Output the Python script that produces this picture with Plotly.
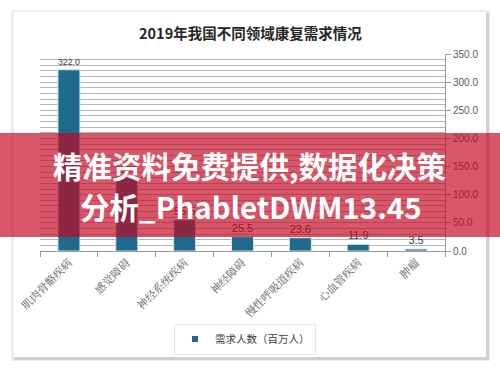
import plotly.graph_objects as go

title = "2019年我国不同领域康复需求情况"
categories = ["肌肉骨骼疾病", "感觉障碍", "神经系统疾病", "神经障碍", "慢性呼吸道疾病", "心血管疾病", "肿瘤"]
values = [322.0, 132.0, 55.5, 25.5, 23.6, 11.9, 3.5]
series_name = "需求人数（百万人）"
y_ticks = [0, 50, 100, 150, 200, 250, 300, 350]
banner_line1 = "精准资料免费提供,数据化决策"
banner_line2 = "分析_PhabletDWM13.45"

W, H = 500, 370
L, R, T, B = 40, 445, 54, 251  # plot area in pixels
BAR_COLOR = "#1f6a8c"


def px_x(x):
    return (x - L) / (R - L)


def px_y(y):
    return (B - y) / (B - T)


fig = go.Figure()
fig.add_trace(go.Bar(
    x=categories, y=values, name=series_name, showlegend=False,
    marker=dict(color=BAR_COLOR, line=dict(color="#d4e2ea", width=1)),
    width=0.38,
    text=[f"{v:.1f}" for v in values], textposition="outside",
    textfont=dict(size=11, color="#404040", family="Liberation Sans, Arial"),
    cliponaxis=False,
))
# legend entry with a small square key, as in the reference
fig.add_trace(go.Scatter(
    x=[None], y=[None], mode="markers", name=series_name,
    marker=dict(symbol="square", size=6, color=BAR_COLOR),
))

shapes = [
    # card shadow
    dict(type="rect", xref="paper", yref="paper", x0=px_x(11), x1=px_x(490), y0=px_y(10), y1=px_y(361),
         fillcolor="#ececec", line=dict(width=0), layer="below"),
    dict(type="rect", xref="paper", yref="paper", x0=px_x(14), x1=px_x(489), y0=px_y(13), y1=px_y(360),
         fillcolor="#cfcfcf", line=dict(width=0), layer="below"),
    dict(type="rect", xref="paper", yref="paper", x0=px_x(14), x1=px_x(486), y0=px_y(12), y1=px_y(357),
         fillcolor="#ffffff", line=dict(width=0), layer="below"),
    # banner
    dict(type="rect", xref="paper", yref="paper", x0=px_x(0), x1=px_x(500), y0=px_y(133), y1=px_y(237),
         fillcolor="rgba(196,4,30,0.67)", line=dict(width=0), layer="above"),
]

annotations = [
    dict(text=f"<b>{title}</b>", xref="paper", yref="paper", x=px_x(250), y=px_y(32),
         showarrow=False, xanchor="center", yanchor="middle",
         font=dict(size=14.5, color="#262626", family="Noto Sans CJK SC")),
    dict(text=f"<b>{banner_line1}</b>", xref="paper", yref="paper", x=px_x(249), y=px_y(165),
         showarrow=False, xanchor="center", yanchor="middle",
         font=dict(size=29.5, color="#ffffff", family="Noto Sans CJK SC")),
    dict(text=f"<b>{banner_line2}</b>", xref="paper", yref="paper", x=px_x(251), y=px_y(206),
         showarrow=False, xanchor="center", yanchor="middle",
         font=dict(size=29.5, color="#ffffff", family="Noto Sans CJK SC")),
]

fig.update_layout(
    template="none",
    width=W, height=H,
    margin=dict(l=L, r=W - R, t=T, b=H - B, pad=0, autoexpand=False),
    paper_bgcolor="#ffffff",
    plot_bgcolor="#edf1f6",
    shapes=shapes,
    annotations=annotations,
    showlegend=True,
    legend=dict(orientation="h", x=px_x(245), y=px_y(339), xanchor="center", yanchor="middle",
                bgcolor="#ffffff", bordercolor="#e6e6e6", borderwidth=1, itemwidth=30,
                font=dict(size=10.5, color="#404040", family="Noto Sans CJK SC")),
    bargap=0.62,
)

fig.update_yaxes(
    side="right", range=[0, 350], tickvals=y_ticks,
    ticktext=[f"{v:.1f}" for v in y_ticks],
    showgrid=True, gridcolor="#aeb8c4", gridwidth=1,
    minor=dict(dtick=10, showgrid=True, gridcolor="#aeb8c4", gridwidth=1),
    showline=True, linecolor="#9a9a9a", linewidth=1,
    ticks="outside", ticklen=5, tickcolor="#9a9a9a",
    tickfont=dict(size=10, color="#595959", family="Liberation Sans, Arial"),
    zeroline=False, automargin=False,
)
fig.update_xaxes(
    tickangle=-45, tickson="boundaries", ticks="outside", ticklen=5, tickcolor="#9a9a9a",
    showline=True, linecolor="#9a9a9a", linewidth=1, showgrid=False,
    tickfont=dict(size=11, color="#595959", family="Noto Serif CJK SC, Noto Sans CJK SC"),
    automargin=False,
)

fig.write_html("out.html", config={"displayModeBar": False},
               post_script="document.body.style.margin='0';document.body.style.overflow='hidden';")
